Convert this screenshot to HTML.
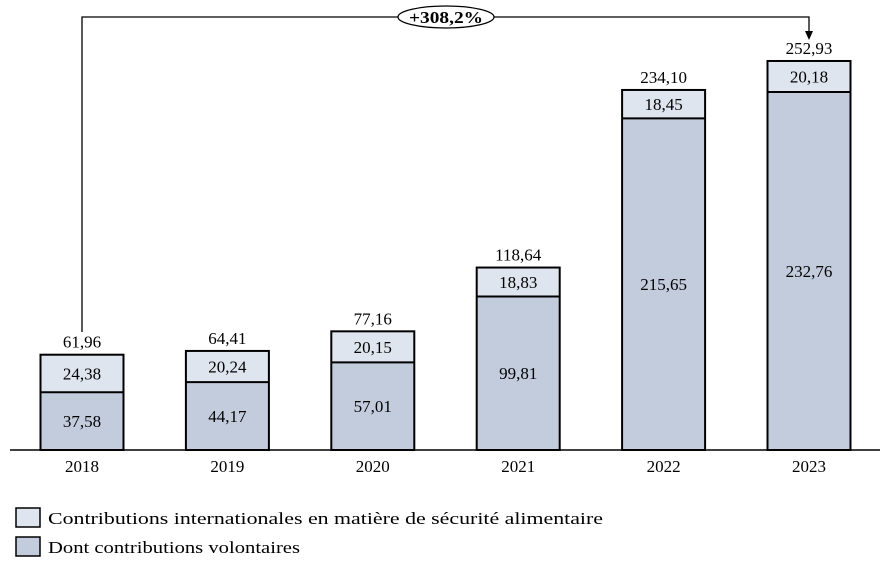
<!DOCTYPE html>
<html><head><meta charset="utf-8"><style>
body{margin:0;background:#fff;}
svg{display:block;font-family:"Liberation Serif",serif;}
</style></head><body>
<svg id="chart" width="890" height="569">
<g id="bars"></g>
<line x1="10" y1="450" x2="880" y2="450" stroke="#000" stroke-width="1.5"/>
<g>
<polyline points="82,332 82,17 809,17 809,32" fill="none" stroke="#000" stroke-width="1.3"/>
<polygon points="805,31 813,31 809,40" fill="#000"/>
<ellipse cx="446" cy="17" rx="48" ry="11" fill="#fff" stroke="#000" stroke-width="1.3"/>
<text x="446" y="23" text-anchor="middle" font-size="17" font-weight="bold" textLength="74" lengthAdjust="spacingAndGlyphs">+308,2%</text>
</g>
<g>
<rect x="16" y="508" width="24" height="19" fill="#dfe5ee" stroke="#000" stroke-width="1.5"/>
<text x="48" y="524" font-size="17" textLength="555" lengthAdjust="spacingAndGlyphs">Contributions internationales en matière de sécurité alimentaire</text>
<rect x="16" y="537" width="24" height="19" fill="#c2ccdd" stroke="#000" stroke-width="1.5"/>
<text x="48" y="553" font-size="17" textLength="252" lengthAdjust="spacingAndGlyphs">Dont contributions volontaires</text>
</g>
</svg>
<script>
const years = ["2018","2019","2020","2021","2022","2023"];
const voluntary = [37.58,44.17,57.01,99.81,215.65,232.76];
const other = [24.38,20.24,20.15,18.83,18.45,20.18];
const totals = [61.96,64.41,77.16,118.64,234.10,252.93];
const base = 450, scale = 389/252.93;
const x = i => 82 + i*145.4;
const y = v => base - v*scale;
const fmt = v => v.toFixed(2).replace('.', ',');
const NS = "http://www.w3.org/2000/svg";
const g = document.getElementById('bars');
function mk(tag, attrs, txt){const e=document.createElementNS(NS,tag);for(const k in attrs)e.setAttribute(k,attrs[k]);if(txt!==undefined)e.textContent=txt;g.appendChild(e);return e;}
years.forEach((yr,i)=>{
  const cx=x(i), w=83, l=cx-w/2;
  const yv=y(voluntary[i]), yt=y(voluntary[i]+other[i]);
  let r=mk('rect',{x:l,y:yv,width:w,height:base-yv,fill:'#c2ccdd'});
  
  
  r=mk('rect',{x:l,y:yt,width:w,height:yv-yt,fill:'#dfe5ee'});
  
  
  r=mk('rect',{x:l,y:yt,width:w,height:base-yt,fill:'none',stroke:'#000','stroke-width':2});
  
  
  r=mk('line',{x1:l,x2:l+w,y1:yv,y2:yv,stroke:'#000','stroke-width':2});
  
  
  let t=mk('text',{x:cx,y:(yv+base)/2+6,'text-anchor':'middle','font-size':17},fmt(voluntary[i]));
  
  
  t=mk('text',{x:cx,y:(yt+yv)/2+6,'text-anchor':'middle','font-size':17},fmt(other[i]));
  
  
  t=mk('text',{x:cx,y:yt-7,'text-anchor':'middle','font-size':17},fmt(totals[i]));
  
  
  t=mk('text',{x:cx,y:472,'text-anchor':'middle','font-size':17},yr);
  
  
});
</script>
</body></html>
